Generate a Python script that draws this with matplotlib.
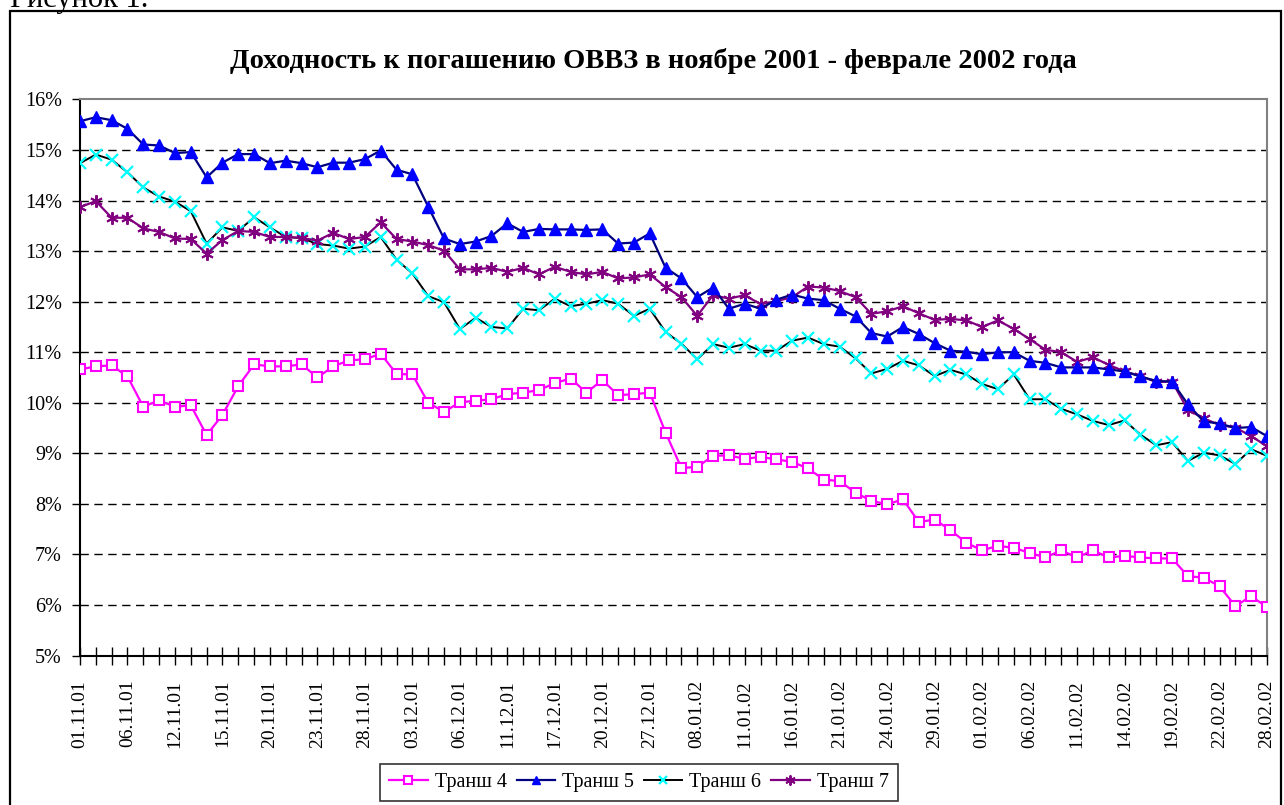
import numpy as np
import matplotlib
matplotlib.use('Agg')
import matplotlib.pyplot as plt
from matplotlib.patches import Rectangle
from matplotlib.ticker import FuncFormatter

plt.rcParams['font.family'] = ['Liberation Serif', 'DejaVu Serif']

# tick labels every third trading day
date_labels = ['01.11.01', '06.11.01', '12.11.01', '15.11.01', '20.11.01', '23.11.01',
               '28.11.01', '03.12.01', '06.12.01', '11.12.01', '17.12.01', '20.12.01',
               '27.12.01', '08.01.02', '11.01.02', '16.01.02', '21.01.02', '24.01.02',
               '29.01.02', '01.02.02', '06.02.02', '11.02.02', '14.02.02', '19.02.02',
               '22.02.02', '28.02.02']

# yields, %
tranche4 = [10.66, 10.72, 10.74, 10.52, 9.92, 10.05, 9.92, 9.95, 9.36, 9.76,
            10.33, 10.76, 10.72, 10.72, 10.76, 10.50, 10.72, 10.84, 10.86, 10.97,
            10.57, 10.56, 10.00, 9.82, 10.01, 10.04, 10.07, 10.17, 10.20, 10.25,
            10.39, 10.48, 10.20, 10.45, 10.15, 10.17, 10.20, 9.41, 8.71, 8.73,
            8.95, 8.96, 8.89, 8.93, 8.88, 8.83, 8.70, 8.48, 8.45, 8.22,
            8.06, 7.99, 8.09, 7.64, 7.69, 7.48, 7.23, 7.08, 7.17, 7.13,
            7.03, 6.94, 7.08, 6.94, 7.08, 6.94, 6.97, 6.94, 6.92, 6.92,
            6.57, 6.54, 6.37, 5.98, 6.17, 5.96]
tranche5 = [15.57, 15.65, 15.59, 15.42, 15.11, 15.09, 14.94, 14.96, 14.46, 14.75,
            14.92, 14.92, 14.74, 14.79, 14.74, 14.66, 14.75, 14.75, 14.82, 14.99,
            14.61, 14.52, 13.88, 13.25, 13.14, 13.19, 13.30, 13.55, 13.38, 13.44,
            13.43, 13.43, 13.42, 13.43, 13.15, 13.17, 13.35, 12.67, 12.46, 12.09,
            12.28, 11.86, 11.96, 11.86, 12.04, 12.14, 12.06, 12.03, 11.86, 11.71,
            11.38, 11.31, 11.50, 11.36, 11.18, 11.03, 11.01, 10.96, 11.00, 11.00,
            10.83, 10.79, 10.70, 10.70, 10.70, 10.66, 10.62, 10.52, 10.43, 10.42,
            9.97, 9.63, 9.59, 9.50, 9.52, 9.34]
tranche6 = [14.74, 14.91, 14.81, 14.56, 14.26, 14.08, 13.98, 13.79, 13.15, 13.47,
            13.40, 13.67, 13.47, 13.28, 13.26, 13.14, 13.11, 13.05, 13.09, 13.28,
            12.83, 12.56, 12.11, 11.99, 11.46, 11.68, 11.50, 11.47, 11.86, 11.83,
            12.06, 11.91, 11.96, 12.03, 11.96, 11.72, 11.86, 11.40, 11.17, 10.86,
            11.16, 11.09, 11.16, 11.03, 11.03, 11.23, 11.29, 11.16, 11.11, 10.88,
            10.58, 10.67, 10.83, 10.74, 10.53, 10.65, 10.56, 10.37, 10.27, 10.56,
            10.07, 10.07, 9.88, 9.77, 9.64, 9.56, 9.65, 9.37, 9.16, 9.22,
            8.85, 9.01, 8.96, 8.79, 9.08, 8.95]
tranche7 = [13.87, 13.99, 13.66, 13.66, 13.45, 13.38, 13.25, 13.24, 12.95, 13.22,
            13.40, 13.38, 13.28, 13.28, 13.26, 13.21, 13.36, 13.24, 13.28, 13.57,
            13.24, 13.19, 13.12, 13.01, 12.64, 12.64, 12.67, 12.59, 12.67, 12.54,
            12.69, 12.59, 12.54, 12.59, 12.46, 12.48, 12.54, 12.29, 12.09, 11.72,
            12.13, 12.06, 12.13, 11.95, 12.01, 12.09, 12.30, 12.28, 12.21, 12.09,
            11.76, 11.81, 11.91, 11.77, 11.64, 11.66, 11.63, 11.50, 11.63, 11.46,
            11.26, 11.05, 11.00, 10.81, 10.90, 10.75, 10.62, 10.53, 10.41, 10.42,
            9.86, 9.69, 9.56, 9.51, 9.34, 9.14]

x = np.arange(len(tranche4))

fig = plt.figure(figsize=(12.84, 8.05), dpi=100)
W, H = 1284, 805

# outer chart frame
fig.patches.append(Rectangle((10 / W, -0.02), (1281 - 10) / W, (1 - 11 / H) + 0.02,
                             transform=fig.transFigure, fill=False, ec='black', lw=1.6))
fig.text(10 / W, 1 - 7 / H, 'Рисунок 1.', ha='left', va='baseline', fontsize=22)

ax = fig.add_axes([80 / W, 1 - 655.5 / H, (1267 - 80) / W, (655.5 - 99.5) / H])

ax.plot(x, tranche4, color='#FF00FF', lw=1.6, marker='s', ms=7, mfc='white',
        mec='#FF00FF', mew=1.5, label='Транш 4', zorder=3)
ax.plot(x, tranche5, color='#000080', lw=1.6, marker='^', ms=8, mfc='#0000FF',
        mec='#0000FF', label='Транш 5', zorder=4)
ax.plot(x, tranche6, color='black', lw=1.4, marker='x', ms=8, mec='#00FFFF',
        mew=1.6, label='Транш 6', zorder=3)
ax.plot(x, tranche7, color='#800080', lw=1.6, marker=(6, 2, 0), ms=9, mec='#800080',
        mew=1.4, label='Транш 7', zorder=3)

ax.set_xlim(0, 75)
ax.set_ylim(5, 16)
ax.set_yticks(range(5, 17))
ax.yaxis.set_major_formatter(FuncFormatter(lambda v, p: '%d%%' % v))
ax.set_xticks(range(0, 76, 3))
ax.set_xticklabels(date_labels, rotation=90)
ax.set_xticks(range(76), minor=True)
ax.tick_params(axis='x', which='both', direction='inout', length=13, width=1)
ax.tick_params(axis='x', which='major', labelsize=14, pad=11)
ax.tick_params(axis='y', direction='out', length=6, width=1, labelsize=14.5, pad=7)

for v in range(6, 16):
    ax.axhline(v, color='black', lw=1, ls=(0, (6, 4)), zorder=1)

for s in ['left', 'bottom']:
    ax.spines[s].set_color('black')
    ax.spines[s].set_linewidth(1.5)
for s in ['top', 'right']:
    ax.spines[s].set_color('#808080')
    ax.spines[s].set_linewidth(1.5)

fig.text(653 / W, 1 - 68 / H, 'Доходность к погашению ОВВЗ в ноябре 2001 - феврале 2002 года',
         ha='center', va='baseline', fontsize=20.5, fontweight='bold')

leg = fig.legend(loc='center', bbox_to_anchor=(639 / W, 1 - 782.5 / H), ncol=4,
                 fontsize=14.5, frameon=True, fancybox=False, edgecolor='black',
                 handlelength=1.9, handletextpad=0.35, columnspacing=0.5,
                 borderpad=0.45, borderaxespad=0, markerscale=0.8)
leg.get_frame().set_linewidth(1.2)

fig.savefig('out.png', dpi=100)
